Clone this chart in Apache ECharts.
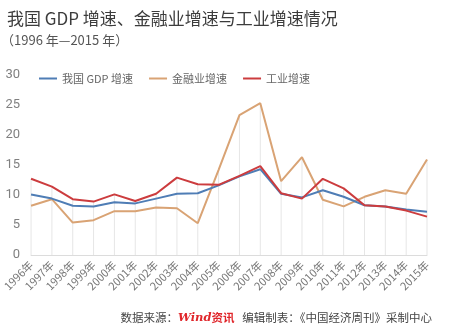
<!DOCTYPE html>
<html>
<head>
<meta charset="utf-8">
<script src="https://cdn.jsdelivr.net/npm/echarts@6/dist/echarts.min.js"></script>
<style>
  html, body { margin: 0; padding: 0; background: #fff; }
  #chart { width: 450px; height: 329px; }
</style>
</head>
<body>
<div id="chart"></div>
<script>
// Growth rates (%), 1996–2015
const years = ['1996年','1997年','1998年','1999年','2000年','2001年','2002年','2003年','2004年','2005年',
               '2006年','2007年','2008年','2009年','2010年','2011年','2012年','2013年','2014年','2015年'];
const gdpGrowth = [10.1, 9.4, 8.2, 8.1, 8.8, 8.6, 9.4, 10.2, 10.3, 11.6, 13.1, 14.3, 10.2, 9.6, 10.8, 9.7, 8.3, 8.1, 7.6, 7.2];
const financeGrowth = [8.2, 9.3, 5.4, 5.8, 7.3, 7.3, 7.9, 7.8, 5.3, 14.2, 23.3, 25.3, 12.3, 16.3, 9.2, 8.1, 9.7, 10.8, 10.2, 15.9];
const industryGrowth = [12.7, 11.4, 9.3, 8.9, 10.1, 9.0, 10.2, 12.9, 11.8, 11.7, 13.2, 14.8, 10.3, 9.4, 12.7, 11.1, 8.3, 8.1, 7.4, 6.4];
const yTicks = [0, 5, 10, 15, 20, 25, 30];

// Drop line height for each year: the highest of the three series
const dropTop = years.map((_, i) => Math.max(gdpGrowth[i], financeGrowth[i], industryGrowth[i]));

const chart = echarts.init(document.getElementById('chart'), null, { renderer: 'canvas' });
const cjk = '"Noto Sans CJK SC", "Noto Sans", sans-serif';

chart.setOption({
  animation: false,
  backgroundColor: '#fff',
  textStyle: { fontFamily: cjk },
  title: [
    {
      text: '我国 GDP 增速、金融业增速与工业增速情况',
      left: 2, top: 5,
      textStyle: { fontSize: 17, fontWeight: 'normal', color: '#3c3c3c', fontFamily: cjk }
    },
    {
      text: '（1996 年—2015 年）',
      left: -4, top: 29,
      textStyle: { fontSize: 13, fontWeight: 'normal', color: '#555', fontFamily: cjk }
    },
    {
      text: '数据来源：{w|Wind}{z|资讯}   编辑制表：《中国经济周刊》采制中心',
      right: 13, top: 307,
      textStyle: {
        fontSize: 11.5, fontWeight: 'normal', color: '#444', fontFamily: cjk,
        rich: {
          w: { fontSize: 11.5, fontStyle: 'italic', fontWeight: 'bold', color: '#e0262b', fontFamily: 'DejaVu Serif' },
          z: { fontSize: 11.5, fontWeight: 'bold', color: '#e0262b', fontFamily: cjk }
        }
      }
    }
  ],
  legend: {
    data: ['我国 GDP 增速', '金融业增速', '工业增速'],
    left: 34, top: 68,
    icon: 'rect',
    itemWidth: 18, itemHeight: 2,
    itemGap: 16,
    textStyle: { fontSize: 11, color: '#666', fontFamily: cjk }
  },
  grid: { left: 31, right: 23, top: 75, bottom: 74 },
  xAxis: {
    type: 'category',
    data: years,
    boundaryGap: false,
    axisLine: { lineStyle: { color: '#dcdcdc', width: 1 } },
    axisTick: { show: false },
    splitLine: { show: false },
    axisLabel: { interval: 0, rotate: 45, fontSize: 11, color: '#777', margin: 8, fontFamily: cjk }
  },
  yAxis: {
    type: 'value',
    min: yTicks[0], max: yTicks[yTicks.length - 1], interval: 5,
    axisLine: { show: false },
    axisTick: { show: false },
    splitLine: { show: false },
    axisLabel: { fontSize: 13, color: '#808080', margin: 11, fontFamily: 'Roboto, "Noto Sans", sans-serif' }
  },
  series: [
    {
      name: 'drop',
      type: 'bar',
      data: dropTop,
      barWidth: 1,
      silent: true,
      itemStyle: { color: '#e6e6e6' },
      z: 1
    },
    {
      name: '我国 GDP 增速',
      type: 'line',
      data: gdpGrowth,
      symbol: 'none',
      lineStyle: { color: '#4f7db5', width: 2 },
      itemStyle: { color: '#4f7db5' },
      z: 3
    },
    {
      name: '金融业增速',
      type: 'line',
      data: financeGrowth,
      symbol: 'none',
      lineStyle: { color: '#d9a374', width: 2 },
      itemStyle: { color: '#d9a374' },
      z: 2
    },
    {
      name: '工业增速',
      type: 'line',
      data: industryGrowth,
      symbol: 'none',
      lineStyle: { color: '#cc3c3e', width: 2 },
      itemStyle: { color: '#cc3c3e' },
      z: 4
    }
  ]
});
</script>
</body>
</html>
